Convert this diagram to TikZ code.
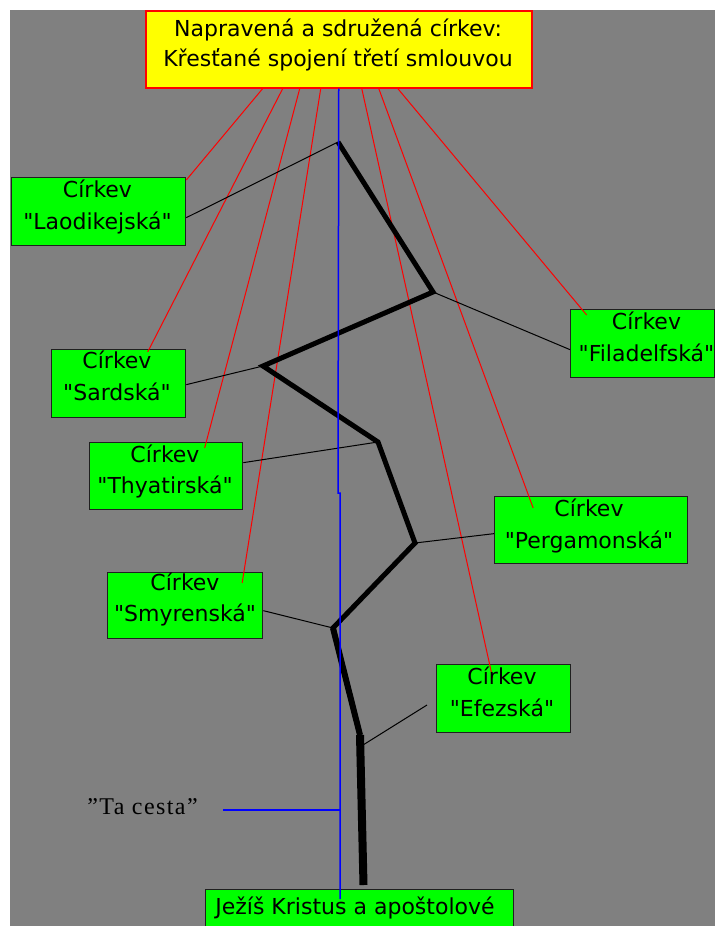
\documentclass[tikz,border=0pt]{standalone}
\usepackage{fontspec}
\newfontfamily\boxfont{DejaVu Sans}
\newfontfamily\cestafont[LetterSpace=6]{Liberation Serif}
\definecolor{boxgreen}{HTML}{00FF00}
\definecolor{boxyellow}{HTML}{FFFF00}
\definecolor{bggray}{HTML}{808080}
\definecolor{edge}{HTML}{202020}
\begin{document}
\begin{tikzpicture}[x=1pt,y=-1pt,
  gbox/.style={draw=edge, fill=boxgreen, line width=1.3pt, inner sep=0pt, anchor=north west},
  ybox/.style={draw=red, fill=boxyellow, line width=1.5pt, inner sep=0pt, anchor=north west},
  txt/.style={anchor=base, inner sep=0pt, font=\boxfont\fontsize{22}{26}\selectfont},
  redln/.style={draw=red, line width=1pt},
  conn/.style={draw=black, line width=1pt},
  way/.style={draw=black, line width=5pt, line join=miter},
  blueln/.style={draw=blue, line width=1.5pt}]
\useasboundingbox (0,0) rectangle (715,926);
\clip (0,0) rectangle (715,926);
\fill[white] (0,0) rectangle (715,926);
\fill[bggray] (10,10) rectangle (715,926);

% boxes
\node[ybox, minimum width=386pt, minimum height=77pt] (title) at (145,10) {};
\node[gbox, minimum width=174pt, minimum height=68pt] (lao) at (11,177) {};
\node[gbox, minimum width=144pt, minimum height=68pt] (fil) at (570,309) {};
\node[gbox, minimum width=134pt, minimum height=68pt] (sar) at (51,349) {};
\node[gbox, minimum width=153pt, minimum height=67pt] (thy) at (89,442) {};
\node[gbox, minimum width=193pt, minimum height=67pt] (per) at (494,496) {};
\node[gbox, minimum width=155pt, minimum height=66pt] (smy) at (107,572) {};
\node[gbox, minimum width=134pt, minimum height=68pt] (efe) at (436,664) {};
\node[gbox, minimum width=308pt, minimum height=50pt] (jez) at (205,889) {};

% path vertices
\coordinate (p1) at (338,142);
\coordinate (p2) at (433,292);
\coordinate (p3) at (263,366);
\coordinate (p4) at (378,442);
\coordinate (p5) at (415,543);
\coordinate (p6) at (333,628);
\coordinate (p7) at (360,735);
\coordinate (p8) at (363.5,885);
\coordinate (pe) at (363,745);
\coordinate (efeEnd) at (427,705);

% red lines
\draw[redln] ([xshift=-76pt]title.south) -- ([yshift=-3pt]lao.north east);
\draw[redln] ([xshift=-56pt]title.south) -- ([xshift=29pt,yshift=-3pt]sar.north);
\draw[redln] ([xshift=-39pt]title.south) -- ([xshift=38.5pt,yshift=-6pt]thy.north);
\draw[redln] ([xshift=-18pt]title.south) -- ([xshift=57pt,yshift=-11pt]smy.north);
\draw[redln] ([xshift=23pt]title.south) -- ([xshift=-11pt,yshift=-14pt]efe.north);
\draw[redln] ([xshift=40pt]title.south) -- ([xshift=-58pt,yshift=-12pt]per.north);
\draw[redln] ([xshift=59pt]title.south) -- ([xshift=-56pt,yshift=-6pt]fil.north);

% thin connectors
\draw[conn] ([yshift=-6pt]lao.east) -- (p1);
\draw[conn] (p2) -- ([yshift=-6pt]fil.west);
\draw[conn] ([yshift=-1pt]sar.east) -- (p3);
\draw[conn] ([yshift=13.5pt]thy.east) -- (p4);
\draw[conn] (p5) -- ([yshift=-3.5pt]per.west);
\draw[conn] ([yshift=-5pt]smy.east) -- (p6);
\draw[conn] (pe) -- (efeEnd);

% the way
\draw[way] (p1) -- (p2) -- (p3) -- (p4) -- (p5) -- (p6) -- (p7);
\draw[draw=black, line width=6pt] (p6) -- (p7);
\draw[draw=black, line width=8pt] (p7) -- (p8);

% blue lines
\coordinate (b1) at (338,493);
\coordinate (b2) at (340,493);
\coordinate (b3) at (340,899);
\coordinate (bm) at (340,810);
\coordinate (bl) at (223,810);
\draw[blueln] (title.south) -- (b1) -- (b2) -- (b3);
\draw[blueln] (bl) -- (bm);

% texts
\node[txt] (titleA) at (338,36) {Napravená a sdružená církev:};
\node[txt] (titleB) at (338,66.5) {Křesťané spojení třetí smlouvou};
\node[txt] (laoA) at (97.5,197) {Církev};
\node[txt] (laoB) at (97.5,229) {"Laodikejská"};
\node[txt] (filA) at (646.5,329) {Církev};
\node[txt] (filB) at (646.5,361) {"Filadelfská"};
\node[txt] (sarA) at (117,368) {Církev};
\node[txt] (sarB) at (117,400) {"Sardská"};
\node[txt] (thyA) at (165,462) {Církev};
\node[txt] (thyB) at (165,493) {"Thyatirská"};
\node[txt] (perA) at (589,516) {Církev};
\node[txt] (perB) at (589,548) {"Pergamonská"};
\node[txt] (smyA) at (185,590) {Církev};
\node[txt] (smyB) at (185,621) {"Smyrenská"};
\node[txt] (efeA) at (502,684) {Církev};
\node[txt] (efeB) at (502,716) {"Efezská"};
\node[txt] (jezT) at (355,914) {Ježíš Kristus a apoštolové};
\node[anchor=base, inner sep=0pt, font=\cestafont\fontsize{24}{28}\selectfont] (cesta) at (142.5,814) {”Ta cesta”};
\end{tikzpicture}
\end{document}
